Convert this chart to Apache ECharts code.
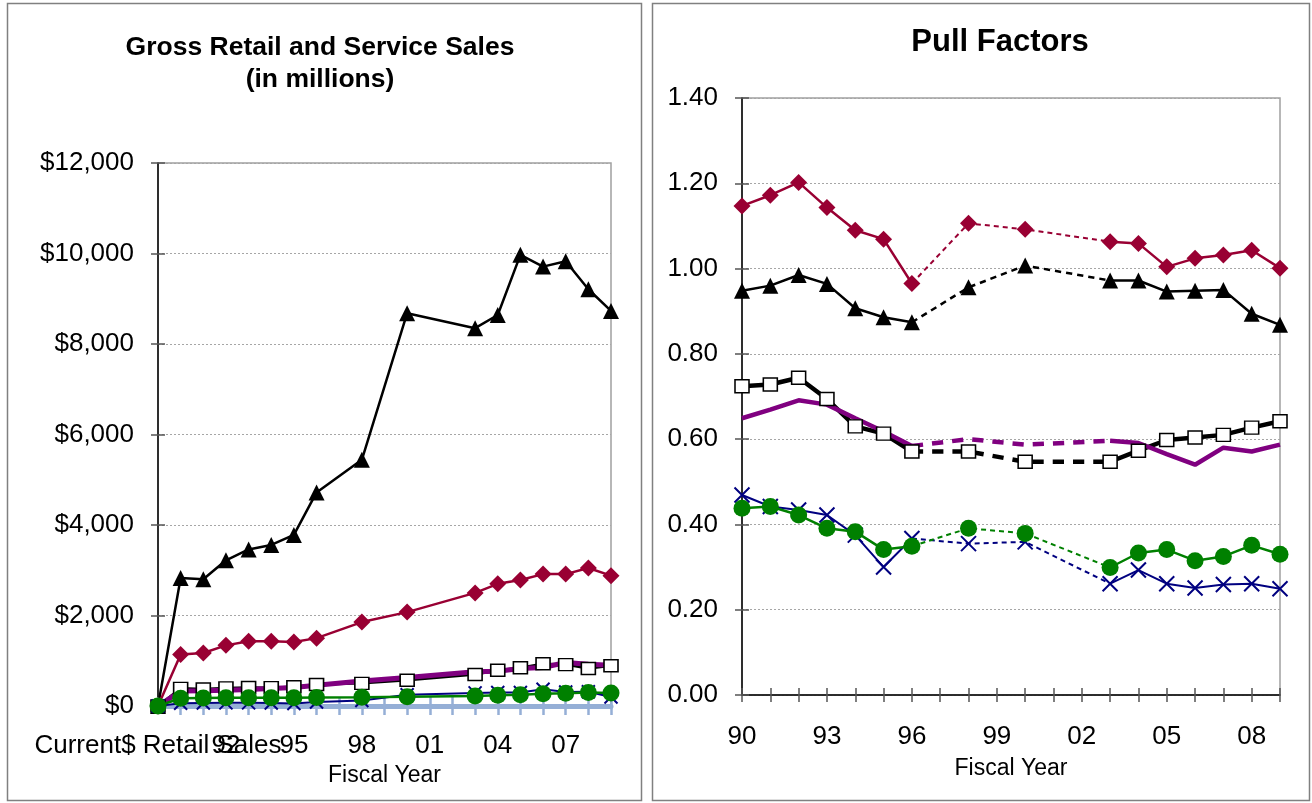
<!DOCTYPE html>
<html>
<head>
<meta charset="utf-8">
<script src="https://cdn.jsdelivr.net/npm/echarts@6/dist/echarts.min.js"></script>
<style>
  html, body { margin: 0; padding: 0; background: #fff; }
  #chart { width: 1312px; height: 803px; }
</style>
</head>
<body>
<div id="chart"></div>
<script>
// ---- Gross retail and service sales (millions of dollars) ----
const salesCategories = ['Current$ Retail Sales', '90', '91', '92', '93', '94', '95', '96', '97', '98', '99',
  '00', '01', '02', '03', '04', '05', '06', '07', '08', '09'];
const salesBlackTriangle = [0, 2830, 2800, 3220, 3460, 3560, 3780, 4720, null, 5440, null, 8680, null, null, 8350, 8640, 9970, 9710, 9830, 9210, 8730];
const salesRedDiamond    = [0, 1140, 1170, 1340, 1430, 1430, 1415, 1500, null, 1855, null, 2075, null, null, 2500, 2700, 2785, 2915, 2915, 3050, 2880];
const salesWhiteSquare   = [0, 390, 375, 400, 410, 405, 425, 475, null, 500, null, 570, null, null, 695, 790, 845, 935, 915, 830, 890];
const salesPurple        = [0, 330, 335, 350, 365, 385, 410, 460, null, 555, null, 630, null, null, 755, 770, 830, 850, 960, 925, 900];
const salesNavyCross     = [0, 60, 65, 70, 70, 65, 55, 90, null, 120, null, 250, null, null, 290, 300, 300, 370, 310, 315, 200];
const salesGreenCircle   = [0, 170, 175, 180, 180, 180, 180, 190, null, 195, null, 205, null, null, 220, 240, 250, 270, 280, 300, 285];
const salesTicks = [0, 2000, 4000, 6000, 8000, 10000, 12000];

// ---- Pull factors ----
const pullCategories = ['90', '91', '92', '93', '94', '95', '96', '97', '98', '99',
  '00', '01', '02', '03', '04', '05', '06', '07', '08', '09'];
const pullRedDiamond    = [1.147, 1.172, 1.202, 1.143, 1.090, 1.069, 0.965, null, 1.106, null, 1.092, null, null, 1.063, 1.059, 1.004, 1.024, 1.032, 1.043, 1.001];
const pullBlackTriangle = [0.948, 0.960, 0.985, 0.964, 0.907, 0.886, 0.874, null, 0.956, null, 1.007, null, null, 0.972, 0.972, 0.946, 0.948, 0.950, 0.894, 0.868];
const pullWhiteSquare   = [0.724, 0.728, 0.744, 0.694, 0.630, 0.613, 0.571, null, 0.571, null, 0.547, null, null, 0.547, 0.573, 0.598, 0.604, 0.610, 0.627, 0.642];
const pullPurple        = [0.649, 0.669, 0.691, 0.681, 0.649, 0.618, 0.584, null, 0.600, null, 0.587, null, null, 0.596, 0.591, 0.565, 0.540, 0.580, 0.571, 0.587];
const pullNavyCross     = [0.469, 0.442, 0.434, 0.422, 0.375, 0.300, 0.367, null, 0.355, null, 0.359, null, null, 0.261, 0.293, 0.261, 0.251, 0.259, 0.261, 0.249];
const pullGreenCircle   = [0.438, 0.442, 0.422, 0.391, 0.383, 0.341, 0.349, null, 0.391, null, 0.379, null, null, 0.299, 0.333, 0.341, 0.315, 0.325, 0.351, 0.330];
const pullTicks = [0, 0.2, 0.4, 0.6, 0.8, 1.0, 1.2, 1.4];

const FONT = 'Liberation Sans, Arial, sans-serif';
const C_RED = '#990033', C_BLACK = '#000000', C_PURPLE = '#800080', C_NAVY = '#000080', C_GREEN = '#008000';
const C_AXISBLUE = '#95AFD6';
const CROSS = 'path://M0,0L10,10M10,0L0,10';

// Points next to missing years, joined with a dashed line
function bridgeGaps(arr) {
  const out = arr.map(() => null);
  for (let i = 0; i < arr.length; i++) {
    if (arr[i] !== null) continue;
    let p = i - 1; while (p >= 0 && arr[p] === null) p--;
    let n = i + 1; while (n < arr.length && arr[n] === null) n++;
    if (p >= 0 && n < arr.length) { out[p] = arr[p]; out[n] = arr[n]; }
  }
  return out;
}

function markerStyle(kind, color) {
  if (kind === 'square') return { color: '#fff', borderColor: '#000', borderWidth: 1.5 };
  if (kind === 'cross') return { color: 'none', borderColor: color, borderWidth: 2 };
  return { color: color };
}

const SYMBOLS = { triangle: 'triangle', diamond: 'diamond', square: 'rect', circle: 'circle', cross: CROSS, none: 'none' };

// Left panel: continuous lines through missing years
function salesSeries(data, kind, color, width, size) {
  return {
    type: 'line', xAxisIndex: 0, yAxisIndex: 0, data: data, connectNulls: true,
    symbol: SYMBOLS[kind], symbolSize: size, showSymbol: kind !== 'none', showAllSymbol: true,
    lineStyle: { color: color, width: width }, itemStyle: markerStyle(kind, color),
    animation: false, silent: true
  };
}

// Right panel: solid where years are consecutive, dashed across missing years
function pullSeries(data, kind, color, width, size, dashWidth) {
  return [
    {
      type: 'line', xAxisIndex: 2, yAxisIndex: 2, data: bridgeGaps(data), connectNulls: true,
      symbol: 'none', lineStyle: { color: color, width: dashWidth, type: [dashWidth * 2.5, dashWidth * 2] },
      animation: false, silent: true
    },
    {
      type: 'line', xAxisIndex: 2, yAxisIndex: 2, data: data, connectNulls: false,
      symbol: SYMBOLS[kind], symbolSize: size, showSymbol: kind !== 'none', showAllSymbol: true,
      lineStyle: { color: color, width: width }, itemStyle: markerStyle(kind, color),
      animation: false, silent: true
    }
  ];
}

const labelText = { fontFamily: FONT, fontSize: 26, color: '#000' };

const option = {
  backgroundColor: '#fff',
  animation: false,
  graphic: [
    { type: 'rect', shape: { x: 7.5, y: 3.5, width: 634, height: 797 }, style: { fill: 'none', stroke: '#808080', lineWidth: 1.5 }, z: -10 },
    { type: 'rect', shape: { x: 652.5, y: 3.5, width: 657, height: 797 }, style: { fill: 'none', stroke: '#808080', lineWidth: 1.5 }, z: -10 },
    { type: 'text', x: 320, y: 48, style: { text: 'Gross Retail and Service Sales', font: 'bold 26.5px ' + FONT, fill: '#000', textAlign: 'center', textVerticalAlign: 'middle' } },
    { type: 'text', x: 320, y: 80, style: { text: '(in millions)', font: 'bold 26.5px ' + FONT, fill: '#000', textAlign: 'center', textVerticalAlign: 'middle' } },
    { type: 'text', x: 1000, y: 42, style: { text: 'Pull Factors', font: 'bold 31px ' + FONT, fill: '#000', textAlign: 'center', textVerticalAlign: 'middle' } }
  ],
  grid: [
    { left: 158, top: 163, width: 453, height: 543, show: true, borderColor: '#a0a0a0', borderWidth: 1.5, backgroundColor: 'transparent' },
    { left: 742, top: 98, width: 538, height: 597, show: true, borderColor: '#a0a0a0', borderWidth: 1.5, backgroundColor: 'transparent' }
  ],
  xAxis: [
    {
      // year labels every third category; the first category's label is drawn by the companion axis
      gridIndex: 0, position: 'bottom', type: 'category', data: salesCategories, boundaryGap: false,
      axisLine: { lineStyle: { color: C_AXISBLUE, width: 5 } },
      axisTick: { show: true, interval: 0, length: 9, lineStyle: { color: C_AXISBLUE, width: 2.5 } },
      axisLabel: Object.assign({ interval: 2, margin: 27, showMinLabel: false, hideOverlap: false }, labelText),
      name: 'Fiscal Year', nameLocation: 'middle', nameGap: 48,
      nameTextStyle: { fontFamily: FONT, fontSize: 23, color: '#000' },
      z: 1
    },
    {
      gridIndex: 0, position: 'bottom', type: 'category', data: salesCategories, boundaryGap: false,
      axisLine: { show: false },
      axisLabel: Object.assign({ interval: (i) => i === 0, margin: 27, showMinLabel: true, hideOverlap: false }, labelText),
      axisTick: { show: true, inside: true, interval: 0, length: 9, lineStyle: { color: C_AXISBLUE, width: 2.5 } }
    },
    {
      gridIndex: 1, position: 'bottom', type: 'category', data: pullCategories, boundaryGap: false,
      axisLine: { lineStyle: { color: '#000', width: 1.5 } },
      axisTick: { show: true, interval: 0, length: 7, lineStyle: { color: '#555', width: 1.5 } },
      axisLabel: Object.assign({ interval: 2, margin: 29 }, labelText),
      name: 'Fiscal Year', nameLocation: 'middle', nameGap: 62,
      nameTextStyle: { fontFamily: FONT, fontSize: 23, color: '#000' }
    },
    {
      gridIndex: 1, position: 'bottom', type: 'category', data: pullCategories, boundaryGap: false,
      axisLine: { show: false }, axisLabel: { show: false },
      axisTick: { show: true, inside: true, interval: 0, length: 7, lineStyle: { color: '#555', width: 1.5 } }
    }
  ],
  yAxis: [
    {
      gridIndex: 0, position: 'left', type: 'value', min: salesTicks[0], max: salesTicks[salesTicks.length - 1], interval: salesTicks[1] - salesTicks[0],
      axisLine: { show: true, lineStyle: { color: '#000', width: 1.5 } },
      axisTick: { show: true, length: 7, lineStyle: { color: '#555', width: 1.5 } },
      axisLabel: Object.assign({ margin: 24, formatter: v => '$' + v.toLocaleString('en-US') }, labelText),
      splitLine: { show: true, lineStyle: { color: '#a6a6a6', width: 1, type: [2, 2] } }
    },
    {
      gridIndex: 0, position: 'left', type: 'value', min: salesTicks[0], max: salesTicks[salesTicks.length - 1], interval: salesTicks[1] - salesTicks[0],
      axisLine: { show: false }, axisLabel: { show: false }, splitLine: { show: false },
      axisTick: { show: true, inside: true, length: 7, lineStyle: { color: '#555', width: 1.5 } }
    },
    {
      gridIndex: 1, position: 'left', type: 'value', min: pullTicks[0], max: pullTicks[pullTicks.length - 1], interval: 0.2,
      axisLine: { show: true, lineStyle: { color: '#000', width: 1.5 } },
      axisTick: { show: true, length: 7, lineStyle: { color: '#555', width: 1.5 } },
      axisLabel: Object.assign({ margin: 24, formatter: v => v.toFixed(2) }, labelText),
      splitLine: { show: true, lineStyle: { color: '#a6a6a6', width: 1, type: [2, 2] } }
    },
    {
      gridIndex: 1, position: 'left', type: 'value', min: pullTicks[0], max: pullTicks[pullTicks.length - 1], interval: 0.2,
      axisLine: { show: false }, axisLabel: { show: false }, splitLine: { show: false },
      axisTick: { show: true, inside: true, length: 7, lineStyle: { color: '#555', width: 1.5 } }
    }
  ],
  series: [
    salesSeries(salesBlackTriangle, 'triangle', C_BLACK, 2.5, 16),
    salesSeries(salesRedDiamond, 'diamond', C_RED, 2.5, 17),
    salesSeries(salesWhiteSquare, 'square', C_BLACK, 2.5, [14, 12]),
    salesSeries(salesPurple, 'none', C_PURPLE, 5, 0),
    salesSeries(salesNavyCross, 'cross', C_NAVY, 2, 13),
    salesSeries(salesGreenCircle, 'circle', C_GREEN, 2.5, 17),
    ...pullSeries(pullBlackTriangle, 'triangle', C_BLACK, 2.5, 16, 2.5),
    ...pullSeries(pullRedDiamond, 'diamond', C_RED, 2.5, 17, 2),
    ...pullSeries(pullWhiteSquare, 'square', C_BLACK, 4.5, [14, 13], 4.5),
    ...pullSeries(pullPurple, 'none', C_PURPLE, 4.5, 0, 4.5),
    ...pullSeries(pullNavyCross, 'cross', C_NAVY, 2, 15, 2),
    ...pullSeries(pullGreenCircle, 'circle', C_GREEN, 2.5, 17, 2)
  ]
};

const chart = echarts.init(document.getElementById('chart'), null, { renderer: 'canvas' });
chart.setOption(option);
</script>
</body>
</html>
